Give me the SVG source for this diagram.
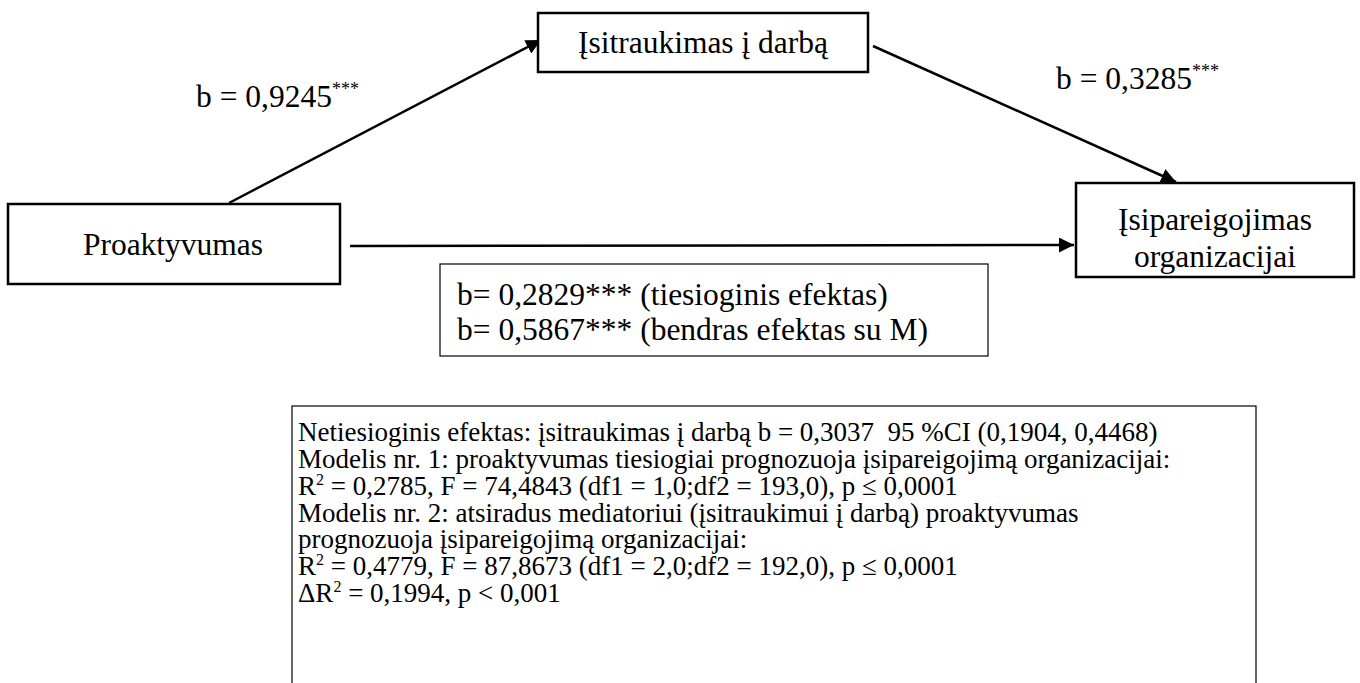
<svg xmlns="http://www.w3.org/2000/svg" width="1360" height="683" viewBox="0 0 1360 683">
<style>
text{font-family:"Liberation Serif","Times New Roman",serif;fill:#000;font-size:31.5px}
.node{fill:#fff;stroke:#000;stroke-width:2.5}
.thin{fill:#fff;stroke:#000;stroke-width:1.2}
.edge{stroke:#000;stroke-width:2.5;fill:none}
.sup{font-size:18px}
.sm{font-size:27px}
.sm2{font-size:16px}
</style>
<defs>
<marker id="ah" viewBox="0 0 10 10" refX="10" refY="5" markerWidth="6" markerHeight="6" markerUnits="strokeWidth" orient="auto"><path d="M0,0L10,5L0,10z" fill="#000"/></marker>
<clipPath id="clipR"><rect x="1076" y="183" width="278" height="92"/></clipPath>
</defs>
<rect width="1360" height="683" fill="#fff"/>
<g id="connectors">
<line class="edge" x1="229" y1="203" x2="541" y2="40" marker-end="url(#ah)"/>
<line class="edge" x1="873" y1="46" x2="1176" y2="182" marker-end="url(#ah)"/>
<line class="edge" x1="350" y1="246" x2="1074" y2="245" marker-end="url(#ah)"/>
<text x="196" y="107">b = 0,9245<tspan class="sup" dy="-12">***</tspan></text>
<text x="1056" y="89">b = 0,3285<tspan class="sup" dy="-12">***</tspan></text>
</g>
<g id="n-isitraukimas">
<rect class="node" x="538" y="13" width="330" height="59"/>
<text x="703" y="53" text-anchor="middle">Įsitraukimas į darbą</text>
</g>
<g id="n-proaktyvumas">
<rect class="node" x="8" y="204" width="332" height="80"/>
<text x="173" y="255" text-anchor="middle">Proaktyvumas</text>
</g>
<g id="n-isipareigojimas">
<rect class="node" x="1076" y="183" width="278" height="94"/>
<g clip-path="url(#clipR)">
<text x="1215" y="230" text-anchor="middle">Įsipareigojimas</text>
<text x="1215" y="267" text-anchor="middle">organizacijai</text>
</g>
</g>
<g id="n-effects">
<rect class="thin" x="440" y="264" width="548" height="92"/>
<text x="457" y="305">b= 0,2829*** (tiesioginis efektas)</text>
<text x="457" y="340">b= 0,5867*** (bendras efektas su M)</text>
</g>
<g id="n-summary">
<rect class="thin" x="292" y="406" width="964" height="290"/>
<text class="sm" x="298" y="441" xml:space="preserve">Netiesioginis efektas: įsitraukimas į darbą b = 0,3037  95 %CI (0,1904, 0,4468)</text>
<text class="sm" x="298" y="468">Modelis nr. 1: proaktyvumas tiesiogiai prognozuoja įsipareigojimą organizacijai:</text>
<text class="sm" x="298" y="495">R<tspan class="sm2" dy="-10">2</tspan><tspan dy="10"> = 0,2785, F = 74,4843 (df1 = 1,0;df2 = 193,0), p ≤ 0,0001</tspan></text>
<text class="sm" x="298" y="522">Modelis nr. 2: atsiradus mediatoriui (įsitraukimui į darbą) proaktyvumas</text>
<text class="sm" x="298" y="548">prognozuoja įsipareigojimą organizacijai:</text>
<text class="sm" x="298" y="575">R<tspan class="sm2" dy="-10">2</tspan><tspan dy="10"> = 0,4779, F = 87,8673 (df1 = 2,0;df2 = 192,0), p ≤ 0,0001</tspan></text>
<text class="sm" x="298" y="602">ΔR<tspan class="sm2" dy="-10">2</tspan><tspan dy="10"> = 0,1994, p &lt; 0,001</tspan></text>
</g>
</svg>
